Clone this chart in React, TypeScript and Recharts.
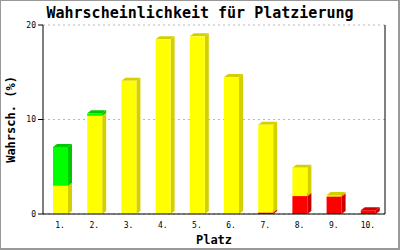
import { BarChart, Bar, XAxis, YAxis, CartesianGrid } from 'recharts'

const places = ['1.', '2.', '3.', '4.', '5.', '6.', '7.', '8.', '9.', '10.']
const redValues = [0, 0, 0, 0, 0, 0, 0.15, 1.9, 1.85, 0.4]
const yellowValues = [3.0, 10.4, 14.1, 18.5, 18.8, 14.5, 9.3, 3.0, 0.15, 0]
const greenValues = [4.1, 0.25, 0, 0, 0, 0, 0, 0, 0, 0]
const yTicks = [0, 10, 20]

const data = places.map((p, i) => ({
  place: p,
  red: redValues[i],
  yellow: yellowValues[i],
  green: greenValues[i],
}))

const darker: Record<string, string> = {
  '#ff0000': '#cc0000',
  '#ffff00': '#d4d000',
  '#00ff00': '#00c800',
}

const mono = '"DejaVu Sans Mono", monospace'

function Bar3D(props: any) {
  const { x, y, width, height, fill } = props
  if (!height || height <= 0) return null
  const dx = 4
  const dy = 3
  const dark = darker[fill] || fill
  return (
    <g>
      <polygon
        points={`${x + width},${y} ${x + width + dx},${y - dy} ${x + width + dx},${y + height - dy} ${x + width},${y + height}`}
        fill={dark}
      />
      <polygon
        points={`${x},${y} ${x + dx},${y - dy} ${x + width + dx},${y - dy} ${x + width},${y}`}
        fill={dark}
      />
      <rect x={x} y={y} width={width} height={height} fill={fill} />
    </g>
  )
}

export default function App() {
  return (
    <div
      style={{
        position: 'absolute',
        left: 0,
        top: 0,
        width: 400,
        height: 250,
        boxSizing: 'border-box',
        borderLeft: '1px solid #999',
        borderTop: '1px solid #999',
        borderRight: '2px solid #999',
        borderBottom: '2px solid #999',
        background: '#fff',
      }}
    >
      <div
        style={{
          position: 'absolute',
          left: 0,
          top: 3,
          width: 398,
          textAlign: 'center',
          fontFamily: mono,
          fontWeight: 'bold',
          fontSize: 15,
        }}
      >
        Wahrscheinlichkeit für Platzierung
      </div>
      <div style={{ position: 'absolute', left: -1, top: -1 }}>
        <BarChart width={400} height={250} data={data} margin={{ top: 25, right: 0, bottom: 16, left: 0 }} barSize={15}>
          <CartesianGrid vertical={false} stroke="#b8b8b8" strokeDasharray="2 3" />
          <XAxis
            dataKey="place"
            axisLine={{ stroke: '#000' }}
            tickLine={false}
            height={20}
            tick={{ fill: '#000', fontSize: 8, fontFamily: mono }}
            label={{ value: 'Platz', position: 'insideBottom', offset: -10, fill: '#000', fontSize: 12, fontWeight: 'bold', fontFamily: mono }}
          />
          <YAxis
            domain={[0, 20]}
            ticks={yTicks}
            width={43}
            axisLine={{ stroke: '#000' }}
            tickLine={{ stroke: '#000' }}
            tickSize={5}
            tick={{ fill: '#000', fontSize: 8, fontFamily: mono }}
            label={{ value: 'Wahrsch. (%)', angle: -90, position: 'insideLeft', offset: 11, fill: '#000', fontSize: 12, fontWeight: 'bold', fontFamily: mono, style: { textAnchor: 'middle' } }}
          />
          <YAxis
            yAxisId="right"
            orientation="right"
            domain={[0, 20]}
            ticks={yTicks}
            width={15}
            axisLine={{ stroke: '#000' }}
            tick={false}
            tickLine={false}
          />
          <Bar dataKey="red" stackId="a" fill="#ff0000" shape={Bar3D} isAnimationActive={false} />
          <Bar dataKey="yellow" stackId="a" fill="#ffff00" shape={Bar3D} isAnimationActive={false} />
          <Bar dataKey="green" stackId="a" fill="#00ff00" shape={Bar3D} isAnimationActive={false} />
        </BarChart>
      </div>
    </div>
  )
}
